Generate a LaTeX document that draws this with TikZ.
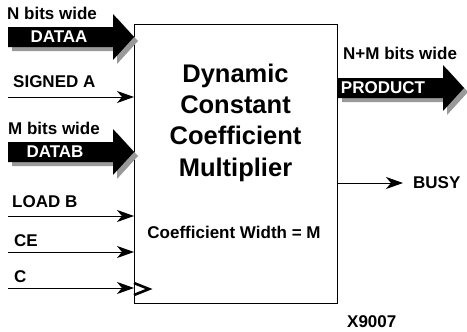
\documentclass[tikz,border=0pt]{standalone}
\usepackage{fontspec}
\setmainfont{Liberation Sans}
\usetikzlibrary{positioning,arrows.meta}

\tikzset{
  bus/.style={fill=black},
  busshadow/.style={fill=black!40},
  fatarrow/.pic={
    \fill[busshadow] (4,4) -- ++(-21,-23) -- ++(0,13) -- ++(-105,0) -- ++(0,20) -- ++(105,0) -- ++(0,13) -- cycle;
    \fill[bus] (0,0) -- ++(-21,-23) -- ++(0,13) -- ++(-105,0) -- ++(0,20) -- ++(105,0) -- ++(0,13) -- cycle;
  }
}

\begin{document}
\begin{tikzpicture}[x=1pt, y=-1pt,
    lbl/.style={anchor=west, inner sep=0pt, font=\fontsize{17}{20}\selectfont\bfseries},
    buslbl/.style={inner sep=0pt, text=white, font=\fontsize{17}{20}\selectfont\bfseries},
    sig/.style={line width=1pt, -{Stealth[length=17pt, width=12pt, inset=5pt]}}]
					\useasboundingbox (0,0) rectangle (467,332);

					\node[draw, line width=1.3pt, minimum width=203pt, minimum height=279pt, inner sep=0pt, anchor=north west] (mult) at (134,24) {};
					\node[align=center, font=\fontsize{25.5}{31.3}\selectfont\bfseries] (title) at (235.5,122.5) {Dynamic\\Constant\\Coefficient\\Multiplier};
					\node[font=\fontsize{17}{20}\selectfont\bfseries, inner sep=0pt] (cw) at (234,232) {Coefficient Width = M};

					\coordinate (tipa) at ([yshift=-13pt]mult.north west);
					\coordinate (tipb) at ([yshift=-128pt]mult.north west);
					\coordinate (tipp) at (464,88);
					\pic at (tipa) {fatarrow};
					\pic at (tipb) {fatarrow};
					\pic at (tipp) {fatarrow};
					\node[buslbl] (dataa) at (59,37) {DATAA};
					\node[buslbl] (datab) at (55,152) {DATAB};
					\node[buslbl] (product) at (383,88) {PRODUCT};
					\node[lbl] (nw) at (7,13) {N bits wide};
					\node[lbl] (mw) at (8,128) {M bits wide};
					\node[lbl] (nmw) at (343,53) {N+M bits wide};

					\node[lbl] (signed) at (13,82) {SIGNED A};
					\node[lbl] (loadb) at (12,202) {LOAD B};
					\node[lbl] (ce) at (14,241) {CE};
					\node[lbl] (clk) at (14,277) {C};
					\coordinate (sa) at (8,97);
					\coordinate (lb) at (8,216);
					\coordinate (en) at (8,252);
					\coordinate (c) at (8,288);
					\draw[sig] (sa) -- (sa -| mult.west);
					\draw[sig] (lb) -- (lb -| mult.west);
					\draw[sig] (en) -- (en -| mult.west);
					\draw[sig] (c) -- (c -| mult.west);
					\draw[line width=2.6pt] (c -| mult.west) ++(0,-5) -- ++(15,6) -- ++(-15,6);

					\node[lbl] (busy) at (413,183) {BUSY};
					\draw[sig] (busy.west -| mult.east) -- ([xshift=-10pt]busy.west);

					\node[lbl] (fig) at (347,322) {X9007};
				\end{tikzpicture}
\end{document}
